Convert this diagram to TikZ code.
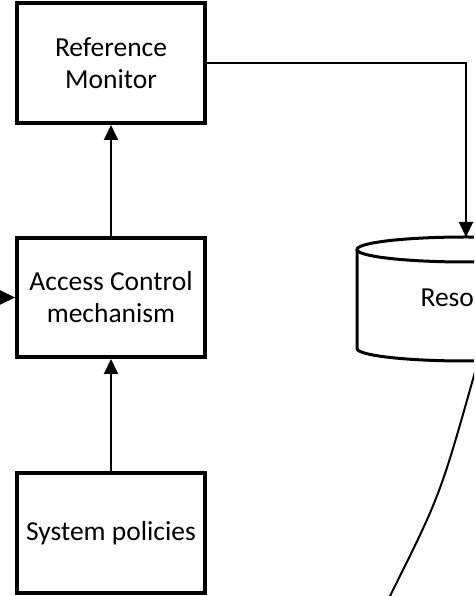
\documentclass[tikz,border=0pt]{standalone}
\usepackage{fontspec}
\setmainfont{Carlito}
\usetikzlibrary{arrows.meta}
\begin{document}
\begin{tikzpicture}[x=1pt,y=1pt,
  box/.style={draw=black, line width=4pt, minimum width=188pt, inner sep=0pt,
    align=center, font=\fontsize{27.5}{32}\selectfont},
  conn/.style={draw=black, line width=2pt, -{Triangle[length=15pt,width=14pt]}},
  cyl/.style={draw=black, line width=3pt}]
\useasboundingbox (0,0) rectangle (474,596);
\clip (0,0) rectangle (474,596);
\fill[white] (0,0) rectangle (474,596);
% boxes
\node[box, minimum height=120pt] (rm) at (111,533) {Reference\\Monitor};
\node[box, minimum height=119pt] (ac) at (111,298.5) {Access Control\\mechanism};
\node[box, minimum height=120pt] (sp) at (111,63) {System policies};
% cylinder
\draw[cyl, fill=white] (357,346.5) -- (357,247.5) arc[start angle=180, end angle=360, x radius=109pt, y radius=12.5pt] -- (575,346.5);
\draw[cyl] (466,346.5) ellipse [x radius=109pt, y radius=12.5pt];
\node[font=\fontsize{27.5}{32}\selectfont, anchor=base west] (res) at (417,289) {Resources};
\coordinate (restop) at (466,359);
% connectors
\coordinate (lin) at (-10,298.5);
\draw[conn] (lin) -- (ac.west);
\draw[conn] (ac.north) -- (rm.south);
\draw[conn] (sp.north) -- (ac.south);
\draw[conn] (rm.east) -| (restop);
% curve
\coordinate (cs) at (475,224);
\coordinate (ce) at (388,-4);
\draw[black, line width=2pt] (cs) .. controls (440,100) .. (ce);
\end{tikzpicture}
\end{document}
